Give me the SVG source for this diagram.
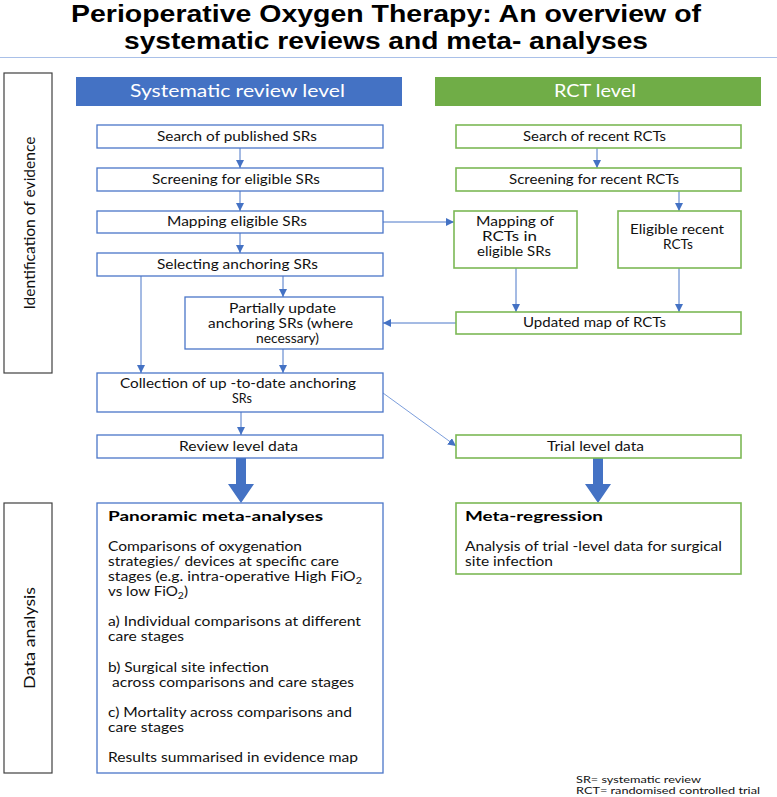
<svg xmlns="http://www.w3.org/2000/svg" width="777" height="797" viewBox="0 0 777 797">
<style>
  .title{font-family:"Liberation Sans",Arial,sans-serif;font-weight:bold;font-size:24px;fill:#000}
  .t{font-family:Lato,"Noto Sans",sans-serif;font-size:13px;fill:#111}
  .tb{font-family:Lato,"Noto Sans",sans-serif;font-size:14px;font-weight:bold;fill:#000}
  .hd{font-family:Lato,"Noto Sans",sans-serif;font-size:17px;fill:#fff}
  .side{font-family:Lato,"Noto Sans",sans-serif;font-size:16px;fill:#111}
  .fn{font-family:Lato,"Noto Sans",sans-serif;font-size:9.5px;fill:#111}
  .bb{fill:#fff;stroke:#4A76C8;stroke-width:1.3}
  .gb{fill:#fff;stroke:#7CB855;stroke-width:1.6}
  .sb{fill:#fff;stroke:#404040;stroke-width:1.2}
  .ln{fill:none;stroke:#4A76C8;stroke-width:1;marker-end:url(#ah)}
  .ln2{fill:none;stroke:#7C9EDC;stroke-width:1;marker-end:url(#ah)}
  .big{fill:#4472C4}
</style>
<defs>
  <marker id="ah" markerUnits="userSpaceOnUse" markerWidth="9" markerHeight="8" refX="8" refY="4" orient="auto">
    <path d="M0,0 L8,4 L0,8 z" fill="#4472C4"/>
  </marker>
</defs>

<g id="title">
  <text class="title" x="71" y="22" textLength="630" lengthAdjust="spacingAndGlyphs">Perioperative Oxygen Therapy: An overview of</text>
  <text class="title" x="124" y="49" textLength="524" lengthAdjust="spacingAndGlyphs">systematic reviews and meta- analyses</text>
  <line x1="0" y1="57.5" x2="777" y2="57.5" stroke="#A9C0E8" stroke-width="1.2"/>
</g>

<g id="side-identification">
  <rect class="sb" x="4" y="73" width="48" height="300"/>
  <text class="side" transform="translate(35,223) rotate(-90)" x="-86.5" y="0" textLength="173" lengthAdjust="spacingAndGlyphs">Identification of evidence</text>
</g>
<g id="side-analysis">
  <rect class="sb" x="4" y="503" width="48" height="270"/>
  <text class="side" transform="translate(35,638) rotate(-90)" x="-51" y="0" textLength="102" lengthAdjust="spacingAndGlyphs">Data analysis</text>
</g>

<g id="header-sr">
  <rect x="76" y="77" width="326" height="29" fill="#4472C4"/>
  <text class="hd" x="130" y="97" textLength="215" lengthAdjust="spacingAndGlyphs">Systematic review level</text>
</g>
<g id="header-rct">
  <rect x="435" y="77" width="326" height="29" fill="#70AD47"/>
  <text class="hd" x="554" y="97" textLength="82" lengthAdjust="spacingAndGlyphs">RCT level</text>
</g>

<g id="connectors">
  <line class="ln" x1="240" y1="148" x2="240" y2="168"/>
  <line class="ln" x1="240" y1="191" x2="240" y2="211"/>
  <line class="ln" x1="240" y1="233" x2="240" y2="253"/>
  <line class="ln" x1="283" y1="276" x2="283" y2="297"/>
  <line class="ln" x1="141" y1="276" x2="141" y2="373"/>
  <line class="ln" x1="283" y1="349" x2="283" y2="373"/>
  <line class="ln" x1="241" y1="412" x2="241" y2="435"/>
  <line class="ln" x1="383" y1="222" x2="454" y2="222"/>
  <line class="ln" x1="597" y1="148" x2="597" y2="168"/>
  <line class="ln" x1="679" y1="191" x2="679" y2="211"/>
  <line class="ln" x1="516" y1="268" x2="516" y2="312"/>
  <line class="ln" x1="679" y1="268" x2="679" y2="312"/>
  <line class="ln" x1="456" y1="323" x2="383" y2="323"/>
  <line class="ln2" x1="383" y1="393" x2="456" y2="446"/>
  <polygon class="big" points="236,458 246,458 246,484 254,484 241,503 228,484 236,484"/>
  <polygon class="big" points="593,458 603,458 603,484 611,484 598,503 585,484 593,484"/>
</g>

<g id="search-srs">
  <rect class="bb" x="97" y="125" width="286" height="23"/>
  <text class="t" x="157" y="141" textLength="160" lengthAdjust="spacingAndGlyphs">Search of published SRs</text>
</g>
<g id="screen-srs">
  <rect class="bb" x="97" y="168" width="286" height="23"/>
  <text class="t" x="152" y="184" textLength="168" lengthAdjust="spacingAndGlyphs">Screening for eligible SRs</text>
</g>
<g id="map-srs">
  <rect class="bb" x="97" y="211" width="286" height="22"/>
  <text class="t" x="167" y="226" textLength="140" lengthAdjust="spacingAndGlyphs">Mapping eligible SRs</text>
</g>
<g id="select-srs">
  <rect class="bb" x="97" y="253" width="286" height="23"/>
  <text class="t" x="157" y="269" textLength="161" lengthAdjust="spacingAndGlyphs">Selecting anchoring SRs</text>
</g>
<g id="update-srs">
  <rect class="bb" x="185" y="297" width="198" height="52"/>
  <text class="t" x="229" y="313" textLength="107" lengthAdjust="spacingAndGlyphs">Partially update</text>
  <text class="t" x="208" y="328" textLength="145" lengthAdjust="spacingAndGlyphs">anchoring SRs (where</text>
  <text class="t" x="256" y="343" textLength="63" lengthAdjust="spacingAndGlyphs">necessary)</text>
</g>
<g id="collection-srs">
  <rect class="bb" x="97" y="373" width="286" height="39"/>
  <text class="t" x="120" y="388" textLength="236" lengthAdjust="spacingAndGlyphs">Collection of up -to-date anchoring</text>
  <text class="t" x="232" y="403" textLength="20" lengthAdjust="spacingAndGlyphs">SRs</text>
</g>
<g id="review-data">
  <rect class="bb" x="97" y="435" width="286" height="23"/>
  <text class="t" x="179" y="451" textLength="119" lengthAdjust="spacingAndGlyphs">Review level data</text>
</g>

<g id="search-rcts">
  <rect class="gb" x="456" y="125" width="285" height="23"/>
  <text class="t" x="523" y="141" textLength="143" lengthAdjust="spacingAndGlyphs">Search of recent RCTs</text>
</g>
<g id="screen-rcts">
  <rect class="gb" x="456" y="168" width="285" height="23"/>
  <text class="t" x="509" y="184" textLength="170" lengthAdjust="spacingAndGlyphs">Screening for recent RCTs</text>
</g>
<g id="map-rcts">
  <rect class="gb" x="454" y="211" width="123" height="57"/>
  <text class="t" x="476" y="226" textLength="78" lengthAdjust="spacingAndGlyphs">Mapping of</text>
  <text class="t" x="482" y="241" textLength="55" lengthAdjust="spacingAndGlyphs">RCTs in</text>
  <text class="t" x="477" y="256" textLength="74" lengthAdjust="spacingAndGlyphs">eligible SRs</text>
</g>
<g id="eligible-rcts">
  <rect class="gb" x="618" y="211" width="123" height="57"/>
  <text class="t" x="630" y="234" textLength="94" lengthAdjust="spacingAndGlyphs">Eligible recent</text>
  <text class="t" x="663" y="249" textLength="30" lengthAdjust="spacingAndGlyphs">RCTs</text>
</g>
<g id="updated-map">
  <rect class="gb" x="456" y="312" width="285" height="22"/>
  <text class="t" x="523" y="327" textLength="143" lengthAdjust="spacingAndGlyphs">Updated map of RCTs</text>
</g>
<g id="trial-data">
  <rect class="gb" x="456" y="435" width="285" height="23"/>
  <text class="t" x="547" y="451" textLength="97" lengthAdjust="spacingAndGlyphs">Trial level data</text>
</g>

<g id="panoramic">
  <rect class="bb" x="97" y="503" width="286" height="270"/>
  <text class="tb" x="108" y="521" textLength="215" lengthAdjust="spacingAndGlyphs">Panoramic meta-analyses</text>
  <text class="t" x="108" y="551" textLength="194" lengthAdjust="spacingAndGlyphs">Comparisons of oxygenation</text>
  <text class="t" x="108" y="566" textLength="231" lengthAdjust="spacingAndGlyphs">strategies/ devices at specific care</text>
  <text class="t" x="108" y="581" textLength="254" lengthAdjust="spacingAndGlyphs">stages (e.g. intra-operative High FiO<tspan font-size="9" dy="3">2</tspan></text>
  <text class="t" x="108" y="596" textLength="80" lengthAdjust="spacingAndGlyphs">vs low FiO<tspan font-size="9" dy="3">2</tspan><tspan dy="-3">)</tspan></text>
  <text class="t" x="108" y="626" textLength="253" lengthAdjust="spacingAndGlyphs">a) Individual comparisons at different</text>
  <text class="t" x="108" y="641" textLength="76" lengthAdjust="spacingAndGlyphs">care stages</text>
  <text class="t" x="108" y="672" textLength="161" lengthAdjust="spacingAndGlyphs">b) Surgical site infection</text>
  <text class="t" x="112" y="687" textLength="242" lengthAdjust="spacingAndGlyphs">across comparisons and care stages</text>
  <text class="t" x="108" y="717" textLength="244" lengthAdjust="spacingAndGlyphs">c) Mortality across comparisons and</text>
  <text class="t" x="108" y="732" textLength="76" lengthAdjust="spacingAndGlyphs">care stages</text>
  <text class="t" x="108" y="762" textLength="250" lengthAdjust="spacingAndGlyphs">Results summarised in evidence map</text>
</g>

<g id="meta-regression">
  <rect class="gb" x="456" y="503" width="285" height="71"/>
  <text class="tb" x="465" y="521" textLength="138" lengthAdjust="spacingAndGlyphs">Meta-regression</text>
  <text class="t" x="465" y="551" textLength="257" lengthAdjust="spacingAndGlyphs">Analysis of trial -level data for surgical</text>
  <text class="t" x="465" y="566" textLength="88" lengthAdjust="spacingAndGlyphs">site infection</text>
</g>

<g id="footnote">
  <text class="fn" x="576" y="783" textLength="125" lengthAdjust="spacingAndGlyphs">SR= systematic review</text>
  <text class="fn" x="576" y="794" textLength="184" lengthAdjust="spacingAndGlyphs">RCT= randomised controlled trial</text>
</g>
</svg>
